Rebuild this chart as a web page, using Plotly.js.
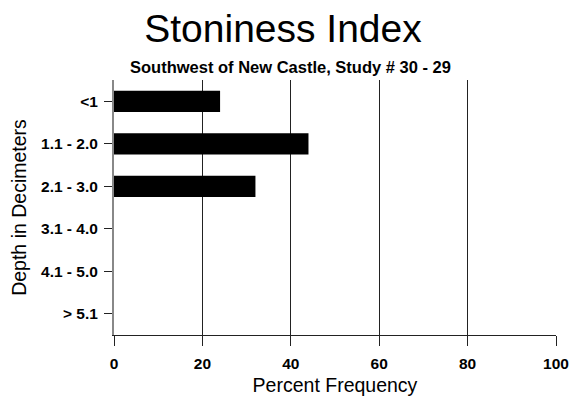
<!DOCTYPE html>
<html>
<head>
<meta charset="utf-8">
<script src="https://cdn.plot.ly/plotly-3.0.1.min.js"></script>
<style>html,body{margin:0;padding:0;background:#fff;}#chart{width:571px;height:399px;}</style>
</head>
<body>
<div id="chart"></div>
<script>
const depthCategories = ['<1', '1.1 - 2.0', '2.1 - 3.0', '3.1 - 4.0', '4.1 - 5.0', '> 5.1'];
const percentFrequency = [24, 44, 32, 0, 0, 0];
const xTickValues = [0, 20, 40, 60, 80, 100];

const font = 'Liberation Sans, Arial, sans-serif';

const trace = {
  type: 'bar',
  orientation: 'h',
  y: depthCategories,
  x: percentFrequency,
  width: 0.5,
  marker: {color: '#000000', line: {width: 0}},
  hoverinfo: 'skip'
};

const layout = {
  width: 571, height: 399,
  margin: {l: 114, r: 15, t: 79.5, b: 63.5, pad: 0},
  paper_bgcolor: '#ffffff', plot_bgcolor: '#ffffff',
  showlegend: false,
  font: {family: font, color: '#000'},
  title: {
    text: 'Stoniness Index',
    font: {family: font, size: 39, color: '#000'},
    x: 283/571, xanchor: 'center', xref: 'container',
    y: 1 - 28/399, yanchor: 'middle', yref: 'container'
  },
  xaxis: {
    range: [0, 100], tickvals: xTickValues, ticktext: xTickValues.map(String),
    showgrid: true, gridcolor: '#222', gridwidth: 1,
    zeroline: false, showline: true, linecolor: '#222', linewidth: 1,
    ticks: 'outside', ticklen: 10, tickcolor: '#222', tickwidth: 1,
    ticklabelstandoff: 4,
    tickfont: {family: font, size: 15.5, color: '#000', weight: 'bold'},
    title: {text: 'Percent Frequency', font: {family: font, size: 19.5, color: '#000'}, standoff: 7},
    fixedrange: true
  },
  yaxis: {
    type: 'category', categoryorder: 'array', categoryarray: depthCategories,
    range: [5.5, -0.5],
    showgrid: false, zeroline: false, showline: true, linecolor: '#888', linewidth: 2,
    ticks: 'outside', ticklen: 8, tickcolor: '#222', tickwidth: 1,
    ticklabelstandoff: 3,
    tickfont: {family: font, size: 15.5, color: '#000', weight: 'bold'},
    title: {text: 'Depth in Decimeters', font: {family: font, size: 19.5, color: '#000'}, standoff: 9},
    fixedrange: true
  },
  annotations: [{
    text: 'Southwest of New Castle, Study # 30 - 29',
    xref: 'paper', yref: 'paper',
    x: (290.5 - 114) / 442, y: (335.5 - 66) / 256,
    xanchor: 'center', yanchor: 'middle', showarrow: false,
    font: {family: font, size: 16.5, color: '#000', weight: 'bold'}
  }]
};

Plotly.newPlot('chart', [trace], layout, {displayModeBar: false, staticPlot: true});
</script>
</body>
</html>
